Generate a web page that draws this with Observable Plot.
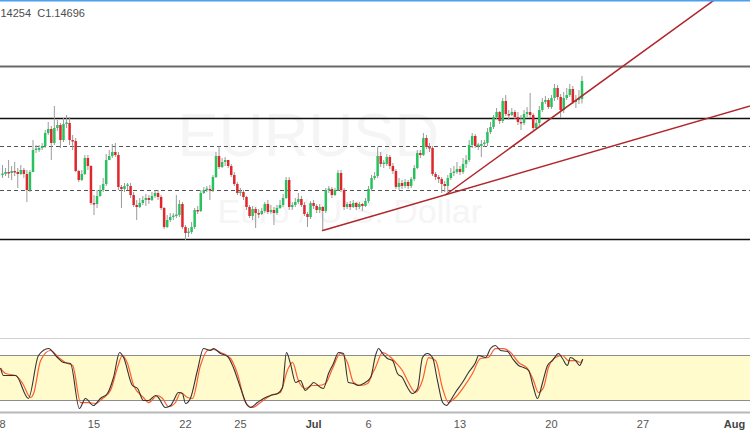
<!DOCTYPE html>
<html><head><meta charset="utf-8">
<script src="https://cdn.jsdelivr.net/npm/d3@7"></script>
<script src="https://cdn.jsdelivr.net/npm/@observablehq/plot@0.6"></script>
<style>
html,body{margin:0;padding:0;background:#fff;}
#chart{width:750px;height:430px;overflow:hidden;}
#chart svg{display:block;}
</style></head><body><div id="chart"></div>
<script>
// ---- data (EUR/USD, 4-hour candles, candle index from 8 June) ----
const firstOpen = 1.1282;
const closes = [
1.1284,1.1288,1.1286,1.1290,1.1288,1.1284,1.1292,1.1284,1.1252,1.1288,
1.1332,1.1332,1.1336,1.1340,1.1366,1.1374,1.1346,1.1376,1.1382,1.1352,
1.1384,1.1386,1.1352,1.1350,1.1290,1.1272,1.1284,1.1316,1.1300,1.1226,
1.1224,1.1240,1.1252,1.1264,1.1312,1.1320,1.1328,1.1322,1.1258,1.1254,
1.1260,1.1260,1.1242,1.1222,1.1218,1.1226,1.1232,1.1236,1.1232,1.1240,
1.1246,1.1238,1.1216,1.1178,1.1192,1.1198,1.1200,1.1202,1.1224,1.1178,
1.1166,1.1168,1.1178,1.1212,1.1210,1.1246,1.1252,1.1254,1.1252,1.1278,
1.1320,1.1298,1.1308,1.1312,1.1300,1.1282,1.1264,1.1246,1.1248,1.1238,
1.1218,1.1200,1.1214,1.1206,1.1204,1.1210,1.1224,1.1208,1.1212,1.1206,
1.1216,1.1222,1.1236,1.1272,1.1218,1.1222,1.1228,1.1234,1.1222,1.1204,
1.1198,1.1226,1.1220,1.1212,1.1218,1.1210,1.1252,1.1254,1.1242,1.1252,
1.1286,1.1252,1.1218,1.1224,1.1218,1.1226,1.1218,1.1224,1.1220,1.1230,
1.1254,1.1276,1.1280,1.1320,1.1304,1.1304,1.1318,1.1300,1.1290,1.1258,
1.1266,1.1260,1.1268,1.1260,1.1274,1.1296,1.1326,1.1322,1.1356,1.1338,
1.1336,1.1284,1.1278,1.1274,1.1264,1.1260,1.1276,1.1286,1.1288,1.1294,
1.1288,1.1304,1.1312,1.1342,1.1360,1.1340,1.1340,1.1344,1.1346,1.1368,
1.1378,1.1398,1.1408,1.1390,1.1430,1.1404,1.1402,1.1408,1.1398,1.1388,
1.1386,1.1404,1.1408,1.1402,1.1376,1.1386,1.1412,1.1428,1.1432,1.1418,
1.1436,1.1456,1.1438,1.1412,1.1436,1.1442,1.1454,1.1428,1.1432,1.1434,1.1470];
const highs = [
1.1302,1.1296,1.1312,1.1300,1.1308,1.1296,1.1302,1.1296,1.1292,1.1292,
1.1352,1.1342,1.1342,1.1346,1.1372,1.1388,1.1380,1.1420,1.1392,1.1386,
1.1396,1.1402,1.1398,1.1362,1.1356,1.1292,1.1292,1.1322,1.1322,1.1302,
1.1242,1.1252,1.1262,1.1276,1.1324,1.1332,1.1344,1.1346,1.1328,1.1262,
1.1266,1.1266,1.1266,1.1248,1.1232,1.1236,1.1240,1.1244,1.1242,1.1248,
1.1252,1.1252,1.1242,1.1218,1.1202,1.1206,1.1206,1.1242,1.1232,1.1228,
1.1182,1.1176,1.1188,1.1216,1.1220,1.1252,1.1258,1.1260,1.1262,1.1282,
1.1328,1.1340,1.1316,1.1318,1.1312,1.1304,1.1288,1.1268,1.1256,1.1252,
1.1240,1.1222,1.1220,1.1218,1.1214,1.1216,1.1228,1.1232,1.1222,1.1218,
1.1222,1.1232,1.1244,1.1278,1.1278,1.1228,1.1236,1.1246,1.1240,1.1228,
1.1208,1.1230,1.1232,1.1224,1.1224,1.1220,1.1256,1.1260,1.1258,1.1256,
1.1292,1.1292,1.1256,1.1228,1.1230,1.1232,1.1228,1.1228,1.1226,1.1236,
1.1260,1.1282,1.1288,1.1338,1.1328,1.1312,1.1324,1.1322,1.1306,1.1294,
1.1276,1.1272,1.1274,1.1272,1.1278,1.1302,1.1332,1.1332,1.1366,1.1362,
1.1346,1.1340,1.1288,1.1282,1.1278,1.1270,1.1282,1.1296,1.1300,1.1308,
1.1300,1.1316,1.1322,1.1352,1.1366,1.1364,1.1346,1.1352,1.1352,1.1376,
1.1388,1.1402,1.1416,1.1410,1.1436,1.1442,1.1412,1.1416,1.1412,1.1408,
1.1402,1.1412,1.1418,1.1446,1.1406,1.1392,1.1420,1.1436,1.1440,1.1436,
1.1442,1.1464,1.1462,1.1444,1.1448,1.1456,1.1464,1.1460,1.1442,1.1452,1.1480];
const lows = [
1.1276,1.1280,1.1276,1.1272,1.1280,1.1256,1.1282,1.1276,1.1228,1.1248,
1.1288,1.1326,1.1328,1.1332,1.1336,1.1362,1.1312,1.1342,1.1370,1.1336,
1.1348,1.1376,1.1342,1.1332,1.1288,1.1268,1.1270,1.1282,1.1292,1.1222,
1.1202,1.1216,1.1238,1.1248,1.1260,1.1312,1.1316,1.1318,1.1252,1.1216,
1.1248,1.1252,1.1236,1.1218,1.1192,1.1216,1.1222,1.1220,1.1224,1.1230,
1.1236,1.1232,1.1212,1.1174,1.1176,1.1188,1.1192,1.1196,1.1198,1.1174,
1.1152,1.1158,1.1164,1.1174,1.1204,1.1208,1.1244,1.1248,1.1232,1.1248,
1.1276,1.1294,1.1296,1.1300,1.1296,1.1278,1.1260,1.1242,1.1240,1.1232,
1.1212,1.1196,1.1192,1.1176,1.1196,1.1202,1.1206,1.1204,1.1204,1.1182,
1.1202,1.1214,1.1218,1.1234,1.1212,1.1212,1.1218,1.1224,1.1218,1.1200,
1.1178,1.1194,1.1214,1.1206,1.1206,1.1172,1.1206,1.1246,1.1236,1.1240,
1.1250,1.1248,1.1212,1.1214,1.1212,1.1216,1.1212,1.1214,1.1210,1.1218,
1.1226,1.1250,1.1272,1.1276,1.1298,1.1296,1.1300,1.1294,1.1284,1.1254,
1.1252,1.1254,1.1256,1.1254,1.1256,1.1270,1.1294,1.1316,1.1320,1.1334,
1.1328,1.1280,1.1272,1.1266,1.1246,1.1248,1.1248,1.1272,1.1280,1.1284,
1.1282,1.1284,1.1296,1.1308,1.1336,1.1336,1.1332,1.1318,1.1338,1.1340,
1.1364,1.1374,1.1394,1.1384,1.1386,1.1400,1.1392,1.1400,1.1394,1.1382,
1.1372,1.1382,1.1398,1.1396,1.1372,1.1374,1.1380,1.1408,1.1424,1.1414,
1.1414,1.1430,1.1432,1.1396,1.1406,1.1432,1.1438,1.1424,1.1416,1.1424,1.1425];

const tickDays   = [0, 5, 10, 13, 17, 20, 25, 30, 35, 40];
const tickLabels = ["8","15","22","25","Jul","6","13","20","27","Aug"];
const barsPerDay = 6;

const levels = [1.1500, 1.1396, 1.1340, 1.1252, 1.1154];
const trendA = [[105, 1.1172], [231.1, 1.1396]];
const trendB = [[145.4, 1.1244], [203.3, 1.1500]];

const bandLevels = [20, 80];
const stochK = [[-0.6,62.7],[0.3,53.3],[4.3,53.3],[8.5,22.7],[11.8,80],[15.1,89.3],[18.0,77.3],[20.0,70.7],[22.3,69.3],[25.2,9.3],[27.2,22.7],[29.8,13.3],[32.1,22.7],[34.4,29.3],[36.4,50.7],[38.4,84],[39.7,77.3],[42.6,40],[44.3,36],[46.2,20],[47.9,20],[50.2,26.7],[51.1,24],[53.4,10.7],[55.1,13.3],[56.1,20],[57.7,30.7],[59.0,29.3],[60.0,16],[61.6,22.7],[63.9,60],[65.9,89.3],[68.2,86.7],[69.2,89.3],[71.5,82.7],[73.8,78.7],[75.7,64],[78.0,37.3],[80.3,13.3],[81.3,10.7],[83.6,17.3],[85.6,22.7],[87.9,26.7],[90.2,29.3],[91.8,37.3],[93.1,84],[94.4,69.3],[96.1,44],[97.7,46.7],[99.3,33.3],[101.0,40],[102.0,44],[104.3,37.3],[105.2,36],[106.9,56],[108.5,69.3],[110.2,84],[111.8,82.7],[113.4,44],[115.1,42.7],[116.7,40],[118.4,42.7],[120.7,50.7],[122.3,80],[123.3,89.3],[124.6,82.7],[126.2,76],[127.9,73.3],[129.5,56],[131.1,50.7],[132.8,37.3],[134.4,29.3],[136.1,36],[137.7,77.3],[139.3,82.7],[141.0,77.3],[142.6,46.7],[144.3,17.3],[145.6,13.3],[146.9,20],[148.5,30.7],[150.8,44],[152.8,57.3],[155.1,70.7],[156.1,80],[158.4,77.3],[160.0,89.3],[161.6,93.3],[163.3,86.7],[165.6,85.3],[167.2,76],[169.2,66.7],[170.8,64],[172.5,60],[174.1,37.3],[175.4,22.7],[177.0,42.7],[178.7,66.7],[180.3,73.3],[182.3,82.7],[183.6,76],[185.2,66.7],[186.2,77.3],[187.9,73.3],[189.2,66.7],[190.2,74.7]];
const stochD = [[-0.6,62.7],[1.0,56],[4.3,53.3],[6.6,42.7],[9.2,24],[10.2,29.3],[12.5,73.3],[15.7,86.7],[18.4,77.3],[21.3,69.3],[23.0,66.7],[25.6,17.3],[27.9,17.3],[30.5,16],[32.8,22.7],[35.4,33.3],[37.7,64],[39.3,80],[41.0,69.3],[43.0,40],[46.2,24],[47.9,17.3],[50.8,26.7],[52.5,22.7],[54.4,12],[56.7,17.3],[58.4,30.7],[60.7,24],[62.3,22.7],[64.9,66.7],[67.2,86.7],[69.2,88],[71.5,84],[74.8,76],[77.0,56],[79.7,17.3],[82.0,10.7],[84.6,17.3],[87.9,26.7],[91.1,30.7],[93.4,60],[95.1,70.7],[97.0,46.7],[99.3,36],[101.6,40],[103.6,40],[105.9,42.7],[108.2,62.7],[110.8,82.7],[113.1,70.7],[115.1,44],[117.4,40],[119.7,42.7],[121.3,56],[122.3,64],[124.6,84],[126.6,80],[128.9,70.7],[131.1,60],[133.1,44],[135.4,30.7],[137.7,46.7],[139.7,77.3],[142.0,73.3],[144.3,36],[146.2,17.3],[148.5,24],[151.1,37.3],[154.1,56],[156.7,76],[159.3,77.3],[161.6,89.3],[164.3,89.3],[166.6,84],[169.2,70.7],[172.1,62.7],[174.1,46.7],[175.7,30.7],[177.4,37.3],[179.0,64],[181.3,77.3],[183.6,80],[185.6,73.3],[187.9,73.3],[189.5,70.7],[190.2,74.7]];

const legendText = "14254  C1.14696";
const watermark = ["EURUSD", "Euro / U.S. Dollar"];

// ---- build ----
const candles = closes.map((c, i) => {
  const o = i === 0 ? firstOpen : closes[i - 1];
  return {k: i, o, c, h: Math.max(highs[i], o, c), l: Math.min(lows[i], o, c)};
});
const ticks = tickDays.map((d, i) => ({k: d * barsPerDay, label: tickLabels[i], month: isNaN(+tickLabels[i])}));

const W = 750, H1 = 338, H2 = 92;
const xDomain = [-0.656, 245.25];
const font = "'Liberation Sans', Arial, sans-serif";
const green = "#27c25e", red = "#e0262a";

function ray(a, kEnd) {
  const s = (a[1][1] - a[0][1]) / (a[1][0] - a[0][0]);
  return [a[0], [kEnd, a[0][1] + s * (kEnd - a[0][0])]];
}

const main = Plot.plot({
  width: W, height: H1, margin: 0,
  x: {domain: xDomain, axis: null},
  y: {domain: [1.0956, 1.1632], axis: null},
  style: {background: "#fff", fontFamily: font},
  marks: [
    Plot.text([watermark[0]], {text: d => d, frameAnchor: "top-left", dx: 177, dy: 155, textAnchor: "start", lineAnchor: "bottom", fontSize: 62, fill: "#f5f5f5"}),
    Plot.text([watermark[1]], {text: d => d, frameAnchor: "top-left", dx: 217, dy: 222, textAnchor: "start", lineAnchor: "bottom", fontSize: 34, fill: "#f5f5f5"}),
    Plot.ruleY([levels[0]], {stroke: "#6a6a6a", strokeWidth: 2}),
    Plot.ruleY([levels[1], levels[4]], {stroke: "#111", strokeWidth: 1.6}),
    Plot.ruleY([levels[2], levels[3]], {stroke: "#555", strokeWidth: 1, strokeDasharray: "4,3"}),
    Plot.ruleX(candles, {x: "k", y1: "l", y2: "h", stroke: "#9b9b9b", strokeWidth: 1}),
    Plot.ruleX(candles, {x: "k", y1: "o", y2: d => Math.abs(d.c - d.o) < 0.0003 ? d.o + (d.c >= d.o ? 0.0003 : -0.0003) : d.c,
      stroke: d => d.c >= d.o ? green : red, strokeWidth: 2.5}),
    Plot.line(ray(trendA, 260), {x: d => d[0], y: d => d[1], stroke: "#b0262b", strokeWidth: 1.5, clip: true}),
    Plot.line(ray(trendB, 260), {x: d => d[0], y: d => d[1], stroke: "#b0262b", strokeWidth: 1.5, clip: true}),
    Plot.frame({anchor: "top", stroke: "#4a9ff0", strokeWidth: 2}),
    Plot.text([legendText], {text: d => d, frameAnchor: "top-left", dx: 0, dy: 13, textAnchor: "start", lineAnchor: "middle", fontSize: 11, fill: "#4d4d4d"})
  ]
});

const stoch = Plot.plot({
  width: W, height: H2, marginTop: 0, marginLeft: 0, marginRight: 0, marginBottom: 18,
  x: {domain: xDomain, axis: null},
  y: {domain: [4, 102.667], axis: null},
  style: {background: "#fff", fontFamily: font},
  marks: [
    Plot.rect([bandLevels], {x1: xDomain[0], x2: xDomain[1], y1: d => d[0], y2: d => d[1], fill: "#fffbcc"}),
    Plot.ruleY(bandLevels, {stroke: "#8c8c8c", strokeWidth: 1}),
    Plot.frame({anchor: "top", stroke: "#d0d0d0", strokeWidth: 1}),
    Plot.frame({anchor: "bottom", stroke: "#b8b8b8", strokeWidth: 2}),
    Plot.line(stochD, {x: d => d[0], y: d => d[1], stroke: "#ff5b32", strokeWidth: 1.2, curve: "monotone-x"}),
    Plot.line(stochK, {x: d => d[0], y: d => d[1], stroke: "#333", strokeWidth: 1.1, curve: "monotone-x"}),
    Plot.text(ticks.filter(d => !d.month), {x: "k", text: "label", frameAnchor: "bottom", dy: 12, lineAnchor: "middle", fontSize: 11, fill: "#555"}),
    Plot.text(ticks.filter(d => d.month), {x: "k", text: "label", frameAnchor: "bottom", dy: 12, lineAnchor: "middle", fontSize: 11, fontWeight: "bold", fill: "#444"})
  ]
});

const root = document.getElementById("chart");
root.appendChild(main);
root.appendChild(stoch);
</script>
</body></html>
